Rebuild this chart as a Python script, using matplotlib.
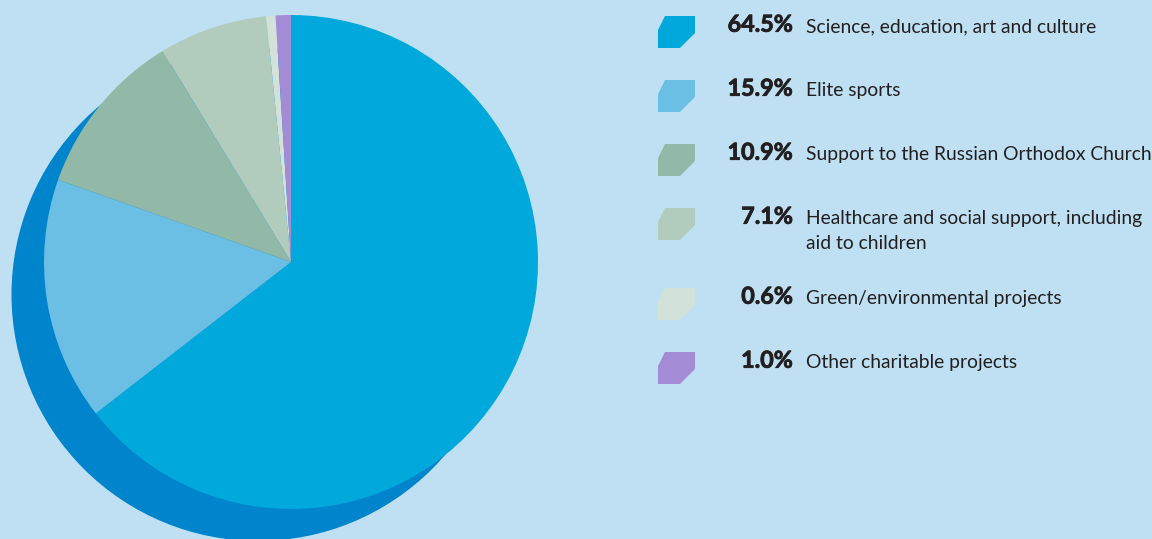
import matplotlib
matplotlib.use("Agg")
import matplotlib.pyplot as plt
import matplotlib.patheffects as pe
from matplotlib.patches import Circle, Polygon

# data
shares = [64.5, 15.9, 10.9, 7.1, 0.6, 1.0]
pct_labels = ["64.5%", "15.9%", "10.9%", "7.1%", "0.6%", "1.0%"]
names = ["Science, education, art and culture",
         "Elite sports",
         "Support to the Russian Orthodox Church",
         "Healthcare and social support, including\naid to children",
         "Green/environmental projects",
         "Other charitable projects"]
colors = ["#00A8DC", "#6BBFE5", "#92B9A8", "#B1CBBD", "#D3E2D9", "#A38BD5"]

bg = "#BEE0F2"
shadow = "#0085CC"
txt = "#231F20"

W, H = 1152, 539
fig = plt.figure(figsize=(W / 100, H / 100), dpi=100)
fig.patch.set_facecolor(bg)
ax = fig.add_axes([0, 0, 1, 1])
ax.set_facecolor(bg)

# shadow disc behind the pie
ax.add_patch(Circle((258, H - 294.5), 246.5, color=shadow, lw=0, zorder=1))

wedges, _ = ax.pie(shares, colors=colors, startangle=90, counterclock=False,
                   radius=247, center=(291, H - 262),
                   wedgeprops=dict(linewidth=0, antialiased=True))
for w in wedges:
    w.set_zorder(2)

# legend rows (top edge of each marker, in px from top)
row_tops = [16, 80, 144, 208, 288, 352]
x0 = 658
for top, c, p, n in zip(row_tops, colors, pct_labels, names):
    pts = [(x0, top + 14), (x0 + 7, top), (x0 + 37, top), (x0 + 37, top + 17),
           (x0 + 22, top + 32), (x0, top + 32)]
    ax.add_patch(Polygon([(x, H - y) for x, y in pts], closed=True,
                         color=c, lw=0, zorder=3))
    ax.text(793, H - (top + 15.7), p, ha="right", va="baseline", fontsize=16.8,
            fontweight="bold", color=txt, family="Lato",
            path_effects=[pe.withStroke(linewidth=0.6, foreground=txt)])
    for i, line in enumerate(n.split("\n")):
        ax.text(806, H - (top + 16 + 25 * i), line, ha="left", va="baseline",
                fontsize=13.9, color=txt, family="Lato")

ax.set_xlim(0, W)
ax.set_ylim(0, H)
ax.set_aspect("equal")
ax.axis("off")

fig.savefig("out.png", dpi=100, facecolor=bg)
